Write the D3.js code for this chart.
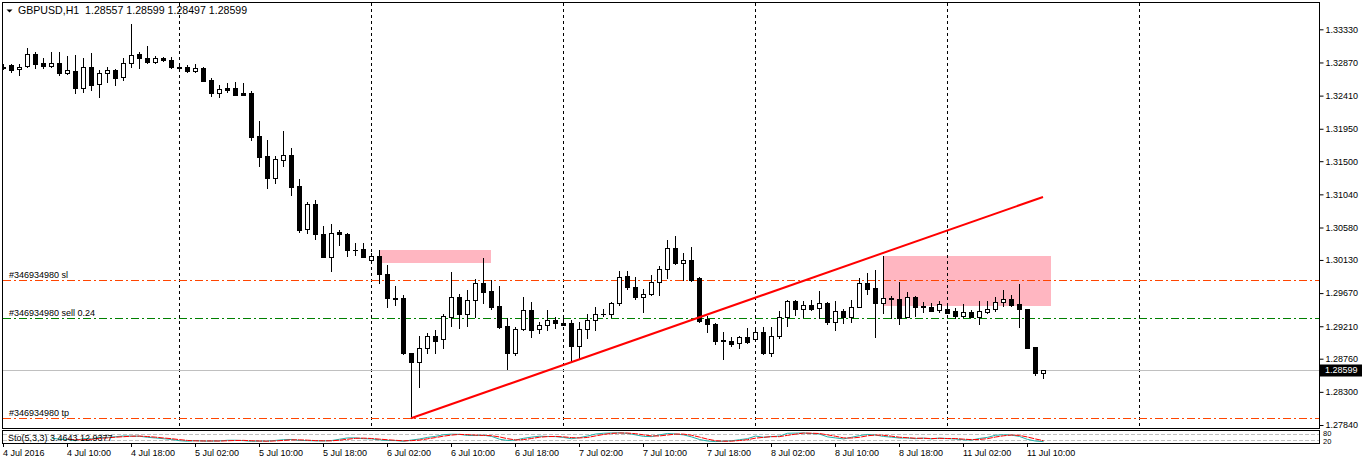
<!DOCTYPE html>
<html>
<head>
<meta charset="utf-8">
<script src="https://cdn.jsdelivr.net/npm/d3@7"></script>
<style>
body { margin: 0; background: #fff; }
svg { display: block; font-family: "Liberation Sans", Arial, sans-serif; }
</style>
</head>
<body>
<svg width="1362" height="464"></svg>
<script>
var symbol = "GBPUSD,H1";

// hourly bars, first bar = 4 Jul 2016 02:00, weekend skipped
var open = [1.32810,1.32835,1.32775,1.32821,1.32987,1.32862,1.32821,1.32862,1.32723,1.32751,
  1.32515,1.32807,1.32571,1.32723,1.32765,1.32668,1.32862,1.32987,1.32932,1.32876,
  1.32932,1.32904,1.32807,1.32802,1.32755,1.32789,1.32627,1.32442,1.32515,1.32515,
  1.32442,1.32442,1.31850,1.31572,1.31263,1.31521,1.31586,1.31156,1.30559,1.30902,
  1.30490,1.30175,1.30513,1.30490,1.30268,1.30278,1.30129,1.30185,1.29935,1.29598,
  1.29598,1.28834,1.28718,1.28904,1.29079,1.29029,1.29343,1.29611,1.29375,1.29570,
  1.29814,1.29699,1.29491,1.29213,1.28834,1.29168,1.29435,1.29168,1.29223,1.29297,
  1.29251,1.29251,1.28940,1.29168,1.29297,1.29378,1.29375,1.29528,1.29907,1.29750,
  1.29611,1.29653,1.29820,1.30000,1.30291,1.30092,1.30129,1.29875,1.29310,1.29237,
  1.29019,1.29005,1.28973,1.29056,1.29029,1.29126,1.28834,1.29079,1.29334,1.29560,
  1.29444,1.29500,1.29458,1.29537,1.29273,1.29421,1.29343,1.29481,1.29814,1.29736,
  1.29528,1.29606,1.29588,1.29334,1.29611,1.29495,1.29481,1.29435,1.29449,1.29421,
  1.29357,1.29403,1.29343,1.29412,1.29444,1.29542,1.29588,1.29518,1.29449,1.28926,
  1.28557];
var high = [1.32855,1.32848,1.32848,1.33071,1.33015,1.32932,1.33015,1.33015,1.32960,1.32973,
  1.32932,1.33001,1.32765,1.32807,1.32779,1.32932,1.33404,1.33015,1.33099,1.32960,
  1.32950,1.32946,1.32862,1.32835,1.32844,1.32803,1.32650,1.32557,1.32581,1.32595,
  1.32585,1.32474,1.32058,1.31794,1.31572,1.31919,1.31679,1.31253,1.30930,1.30962,
  1.30601,1.30629,1.30545,1.30508,1.30370,1.30361,1.30222,1.30268,1.30060,1.29769,
  1.29643,1.28843,1.29074,1.29112,1.29158,1.29380,1.29966,1.29657,1.29713,1.29861,
  1.30152,1.29852,1.29769,1.29320,1.29204,1.29620,1.29551,1.29273,1.29435,1.29334,
  1.29334,1.29297,1.29273,1.29380,1.29472,1.29444,1.29551,1.29976,1.29980,1.29898,
  1.29722,1.29920,1.30046,1.30407,1.30462,1.30231,1.30305,1.29889,1.29352,1.29251,
  1.29134,1.29056,1.29074,1.29182,1.29196,1.29204,1.29204,1.29426,1.29574,1.29574,
  1.29565,1.29574,1.29699,1.29551,1.29560,1.29444,1.29574,1.29875,1.29944,1.29990,
  1.30185,1.29629,1.29828,1.29689,1.29629,1.29551,1.29528,1.29565,1.29491,1.29468,
  1.29519,1.29435,1.29560,1.29565,1.29620,1.29713,1.29643,1.29792,1.29449,1.28926,
  1.28599];
var low = [1.32786,1.32737,1.32696,1.32807,1.32793,1.32793,1.32807,1.32696,1.32710,1.32446,
  1.32460,1.32488,1.32391,1.32599,1.32557,1.32627,1.32807,1.32793,1.32862,1.32862,
  1.32895,1.32793,1.32765,1.32741,1.32732,1.32617,1.32409,1.32395,1.32465,1.32423,
  1.32423,1.31794,1.31438,1.31132,1.31201,1.31438,1.31031,1.30521,1.30499,1.30416,
  1.30175,1.29980,1.30337,1.30189,1.30198,1.30166,1.30119,1.29814,1.29481,1.29504,
  1.28825,1.27933,1.28371,1.28834,1.28843,1.28904,1.29213,1.29190,1.29213,1.29334,
  1.29537,1.29453,1.29190,1.28617,1.28810,1.29158,1.29065,1.29120,1.29158,1.29190,
  1.29227,1.28718,1.28751,1.29043,1.29158,1.29352,1.29334,1.29504,1.29722,1.29583,
  1.29411,1.29643,1.29643,1.29875,1.30074,1.29852,1.29842,1.29273,1.29134,1.28964,
  1.28756,1.28936,1.28904,1.28973,1.29019,1.28820,1.28797,1.29043,1.29217,1.29365,
  1.29342,1.29435,1.29320,1.29237,1.29158,1.29251,1.29273,1.29472,1.29657,1.29054,
  1.29398,1.29320,1.29237,1.29334,1.29352,1.29411,1.29426,1.29411,1.29389,1.29320,
  1.29343,1.29334,1.29241,1.29398,1.29426,1.29491,1.29491,1.29204,1.28912,1.28540,
  1.28497];
var close = [1.32800,1.32765,1.32811,1.32987,1.32848,1.32821,1.32862,1.32723,1.32765,1.32515,
  1.32807,1.32557,1.32723,1.32765,1.32654,1.32862,1.32973,1.32932,1.32876,1.32932,
  1.32904,1.32811,1.32800,1.32755,1.32789,1.32617,1.32442,1.32498,1.32492,1.32423,
  1.32423,1.31840,1.31562,1.31263,1.31526,1.31586,1.31146,1.30545,1.30902,1.30490,
  1.30175,1.30508,1.30485,1.30268,1.30265,1.30166,1.30185,1.29935,1.29598,1.29595,
  1.28834,1.28718,1.28904,1.29079,1.29009,1.29348,1.29611,1.29375,1.29570,1.29806,
  1.29689,1.29481,1.29204,1.28834,1.29168,1.29435,1.29158,1.29223,1.29297,1.29251,
  1.29232,1.28940,1.29168,1.29297,1.29380,1.29375,1.29528,1.29889,1.29750,1.29611,
  1.29653,1.29820,1.30000,1.30291,1.30092,1.30129,1.29852,1.29287,1.29237,1.29009,
  1.29001,1.28959,1.29056,1.28995,1.29126,1.28834,1.29079,1.29334,1.29560,1.29444,
  1.29500,1.29453,1.29528,1.29273,1.29421,1.29334,1.29481,1.29814,1.29727,1.29528,
  1.29598,1.29583,1.29320,1.29611,1.29481,1.29472,1.29426,1.29514,1.29398,1.29357,
  1.29403,1.29343,1.29421,1.29449,1.29542,1.29588,1.29504,1.29444,1.28912,1.28557,
  1.28599];

// one label every 8 bars, from bar 0
var timeLabels = ["4 Jul 2016","4 Jul 10:00","4 Jul 18:00","5 Jul 02:00","5 Jul 10:00","5 Jul 18:00",
  "6 Jul 02:00","6 Jul 10:00","6 Jul 18:00","7 Jul 02:00","7 Jul 10:00","7 Jul 18:00",
  "8 Jul 02:00","8 Jul 10:00","8 Jul 18:00","11 Jul 02:00","11 Jul 10:00"];
var priceTicks = [1.33330,1.32870,1.32410,1.31950,1.31500,1.31040,1.30580,1.30130,1.29670,1.29210,1.28760,1.28300,1.27840];
var dayStarts = [22, 46, 70, 94, 118, 142];   // bar index of each new day

var orderLines = [
  {label: "#346934980 sl", price: 1.29847, color: "#ff4500"},
  {label: "#346934980 sell 0.24", price: 1.29329, color: "#008000"},
  {label: "#346934980 tp", price: 1.27942, color: "#ff4500"}
];
var trendBars = [51, 130], trendPrices = [1.27933, 1.31004];
var zones = [
  {from: 47, to: 61, top: 1.30268, bottom: 1.30091},
  {from: 110, to: 131, top: 1.30185, bottom: 1.29491}
];
var stoLevels = [80, 20];
var stoReadout = ["3.4643", "12.9377"];

var svg = d3.select("svg"),
    n = close.length,
    plotR = 1319, plotB = 428;

var x = d3.scaleLinear().domain([0, 130]).range([3, 1043]);
var y = d3.scaleLinear().domain([1.2784, 1.3333]).range([425, 29.3]);
var ys = d3.scaleLinear().domain([0, 100]).range([442, 432]);
var fmt = d3.format(".5f");

svg.append("defs").append("clipPath").attr("id", "plot")
  .append("rect").attr("x", 3).attr("y", 3).attr("width", plotR - 3).attr("height", plotB - 3);

var main = svg.append("g").attr("clip-path", "url(#plot)");

// zones
main.selectAll("rect.zone").data(zones).enter().append("rect")
  .attr("class", "zone")
  .attr("x", function(d) { return x(d.from); })
  .attr("y", function(d) { return Math.round(y(d.top)); })
  .attr("width", function(d) { return x(d.to) - x(d.from); })
  .attr("height", function(d) { return Math.round(y(d.bottom)) - Math.round(y(d.top)); })
  .attr("fill", "#ffb6c1");

// day separators
main.selectAll("line.sep").data(dayStarts).enter().append("line")
  .attr("x1", function(d) { return x(d) + 0.5; }).attr("x2", function(d) { return x(d) + 0.5; })
  .attr("y1", 3).attr("y2", plotB)
  .attr("stroke", "#000").attr("stroke-dasharray", "3,3");

// bid line
var bidY = Math.round(y(close[n - 1])) + 0.5;
main.append("line").attr("x1", 3).attr("x2", plotR).attr("y1", bidY).attr("y2", bidY)
  .attr("stroke", "#c0c0c0");

// order lines
orderLines.forEach(function(o) {
  var yy = Math.round(y(o.price)) + 0.5;
  main.append("line").attr("x1", 3).attr("x2", plotR).attr("y1", yy).attr("y2", yy)
    .attr("stroke", o.color).attr("stroke-dasharray", "8,3,2,3");
  main.append("text").attr("x", 9).attr("y", yy - 3).text(o.label)
    .attr("font-size", "9px").attr("fill", "#000");
});

// candles
var bars = d3.range(n);
var cg = main.append("g");
cg.selectAll("line.wick").data(bars).enter().append("line")
  .attr("x1", function(i) { return x(i) + 0.5; }).attr("x2", function(i) { return x(i) + 0.5; })
  .attr("y1", function(i) { return Math.round(y(high[i])); })
  .attr("y2", function(i) { return Math.round(y(low[i])) + 1; })
  .attr("stroke", "#000");
cg.selectAll("rect.body").data(bars).enter().append("rect")
  .attr("x", function(i) { return close[i] >= open[i] ? x(i) - 1.5 : x(i) - 2; })
  .attr("y", function(i) {
    var t = Math.round(y(Math.max(open[i], close[i])));
    return close[i] >= open[i] ? t + 0.5 : t;
  })
  .attr("width", function(i) { return close[i] >= open[i] ? 4 : 5; })
  .attr("height", function(i) {
    var t = Math.round(y(Math.max(open[i], close[i]))), b = Math.round(y(Math.min(open[i], close[i])));
    return close[i] >= open[i] ? Math.max(b - t, 0) : Math.max(b - t + 1, 1);
  })
  .attr("fill", function(i) { return close[i] >= open[i] ? "#fff" : "#000"; })
  .attr("stroke", function(i) { return close[i] >= open[i] ? "#000" : "none"; });

// trend line
main.append("line")
  .attr("x1", x(trendBars[0])).attr("y1", y(trendPrices[0]))
  .attr("x2", x(trendBars[1])).attr("y2", y(trendPrices[1]))
  .attr("stroke", "#ff0000").attr("stroke-width", 2);

// frames
svg.append("rect").attr("x", 2.5).attr("y", 2.5).attr("width", plotR - 2).attr("height", plotB - 2)
  .attr("fill", "none").attr("stroke", "#000");
svg.append("rect").attr("x", 2.5).attr("y", 430.5).attr("width", plotR - 2).attr("height", 13)
  .attr("fill", "none").attr("stroke", "#000");

// price axis
var ax = svg.append("g").attr("transform", "translate(" + (plotR + 0.5) + ",0)")
  .call(d3.axisRight(y).tickValues(priceTicks).tickFormat(fmt).tickSize(4).tickPadding(2));
ax.select(".domain").remove();
ax.selectAll("text").attr("font-family", "Liberation Sans, Arial, sans-serif").attr("font-size", "9px");
ax.selectAll(".tick line").attr("stroke", "#000");

// bid label
svg.append("rect").attr("x", 1320).attr("y", bidY - 6).attr("width", 42).attr("height", 12).attr("fill", "#000");
svg.append("text").attr("x", 1325).attr("y", bidY).attr("dy", "0.33em").attr("fill", "#fff")
  .attr("font-size", "9px").text(fmt(close[n - 1]));

// title
svg.append("path").attr("d", "M6.5,9.5 L12.5,9.5 L9.5,12.5 Z").attr("fill", "#000");
svg.append("text").attr("x", 18).attr("y", 14).attr("font-size", "10.6px").attr("fill", "#000")
  .attr("xml:space", "preserve")
  .text(symbol + "  " + [open[n - 1], high[n - 1], low[n - 1], close[n - 1]].map(fmt).join(" "));

// stochastic 5,3,3
var kP = 5, dP = 3, slow = 3;
var stoMain = bars.map(function(i) {
  if (i < kP + slow - 2) return null;
  var num = 0, den = 0;
  for (var j = i - slow + 1; j <= i; j++) {
    var hh = d3.max(high.slice(j - kP + 1, j + 1)), ll = d3.min(low.slice(j - kP + 1, j + 1));
    num += close[j] - ll; den += hh - ll;
  }
  return den ? 100 * num / den : 100;
});
var stoSig = bars.map(function(i) {
  if (i < kP + slow + dP - 3) return null;
  return d3.mean(stoMain.slice(i - dP + 1, i + 1));
});

var sub = svg.append("g");
stoLevels.forEach(function(l) {
  sub.append("line").attr("x1", 3).attr("x2", plotR).attr("y1", ys(l) + 0.5).attr("y2", ys(l) + 0.5)
    .attr("stroke", "#c0c0c0").attr("stroke-dasharray", "4,2");
});
var ln = d3.line().defined(function(d) { return d[1] != null; })
  .x(function(d) { return x(d[0]) + 0.5; }).y(function(d) { return ys(d[1]); });
sub.append("path").datum(bars.map(function(i) { return [i, stoMain[i]]; }))
  .attr("d", ln).attr("fill", "none").attr("stroke", "#20b2aa");
sub.append("path").datum(bars.map(function(i) { return [i, stoSig[i]]; }))
  .attr("d", ln).attr("fill", "none").attr("stroke", "#ff0000").attr("stroke-dasharray", "6,1");
sub.append("text").attr("x", 8).attr("y", 441).attr("font-size", "9px").attr("fill", "#000")
  .text("Sto(" + kP + "," + dP + "," + slow + ") " + stoReadout.join(" "));
stoLevels.forEach(function(l, k) {
  sub.append("text").attr("x", 1323).attr("y", k ? 444 : 436).attr("font-size", "7.5px").text(l);
});

// time axis
var tg = svg.append("g");
timeLabels.forEach(function(t, k) {
  var xx = x(k * 8);
  tg.append("line").attr("x1", xx + 0.5).attr("x2", xx + 0.5).attr("y1", 443).attr("y2", 447).attr("stroke", "#000");
  tg.append("text").attr("x", xx).attr("y", 456).attr("font-size", "9px").attr("fill", "#000").text(t);
});
</script>
</body>
</html>
